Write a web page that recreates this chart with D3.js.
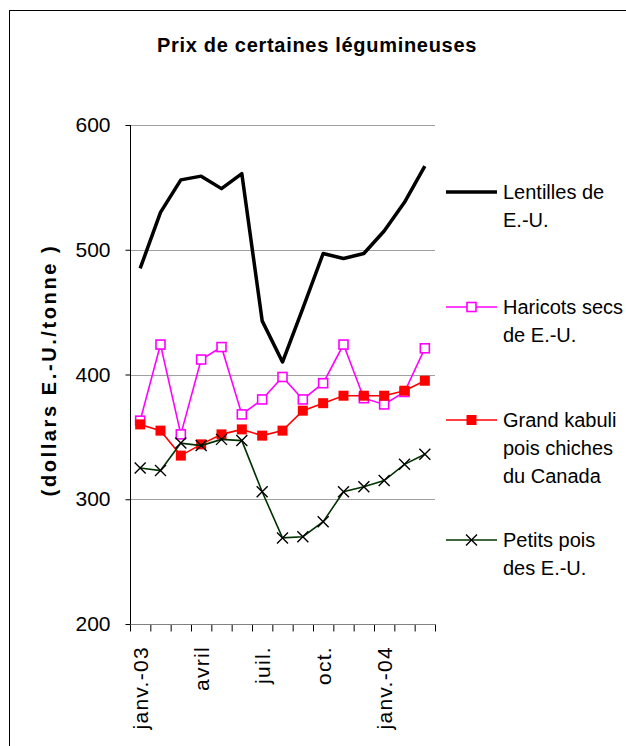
<!DOCTYPE html>
<html>
<head>
<meta charset="utf-8">
<script src="https://cdn.jsdelivr.net/npm/d3@7/dist/d3.min.js"></script>
<style>
  html, body { margin: 0; padding: 0; background: #fff; }
  svg { display: block; }
  text { font-family: "Liberation Sans", Arial, sans-serif; fill: #000; }
</style>
</head>
<body>
<svg id="chart" width="626" height="746"></svg>
<script>
// ---- data ----
const months = ["2003-01","2003-02","2003-03","2003-04","2003-05","2003-06","2003-07","2003-08","2003-09","2003-10","2003-11","2003-12","2004-01","2004-02","2004-03"];
const tickMonths = ["2003-01","2003-04","2003-07","2003-10","2004-01"];
const tickLabels = ["janv.-03","avril","juil.","oct.","janv.-04"];
const yTicks = [200, 300, 400, 500, 600];

const lentilles = [485, 530, 556, 559, 549, 561, 443, 410, 453, 497, 493, 497, 515, 538, 567];
const haricots  = [363, 424, 352, 412, 422, 368, 380, 398, 380, 393, 424, 381, 376, 386, 421];
const kabuli    = [360, 355, 335, 344, 352, 356, 351, 355, 371, 377, 383, 383, 383, 387, 395];
const petitsPois= [325, 323, 345, 343, 348, 347, 306, 269, 270, 282, 306, 310, 315, 328, 336];

const seriesNames = [["Lentilles de","E.-U."],["Haricots secs","de E.-U."],["Grand kabuli","pois chiches","du Canada"],["Petits pois","des E.-U."]];

// ---- chart ----
const svg = d3.select("#chart");

// outer frame
svg.append("rect").attr("x", 9.5).attr("y", 10.5).attr("width", 700).attr("height", 800)
  .attr("fill", "none").attr("stroke", "#000").attr("stroke-width", 1);

const x = d3.scaleBand().domain(months).range([130, 435]).padding(0);
const xEdge = d3.scaleLinear().domain([0, months.length]).range([130, 435]);
const y = d3.scaleLinear().domain([200, 600]).range([624, 125]);
const cx = m => x(m) + x.bandwidth() / 2;

// title
svg.append("text").attr("x", 157).attr("y", 51.5).attr("text-anchor", "start")
  .style("font-size", "20px").style("font-weight", "bold").style("letter-spacing", "0.7px")
  .text("Prix de certaines légumineuses");

// gridlines
svg.append("g").selectAll("line").data(yTicks.filter(v => v > 200)).join("line")
  .attr("x1", 130).attr("x2", 435).attr("y1", d => Math.round(y(d)) + 0.5).attr("y2", d => Math.round(y(d)) + 0.5)
  .attr("stroke", "#a0a0a0").attr("stroke-width", 1);

// x axis ticks + line (gray)
const gxTicks = svg.append("g").attr("transform", `translate(0,${Math.round(y(200)) + 0.5})`)
  .call(d3.axisBottom(xEdge).tickValues(d3.range(0, months.length + 1)).tickSize(7).tickFormat(""));
gxTicks.select(".domain").remove();
gxTicks.selectAll(".tick line").attr("stroke", "#000");
svg.append("line").attr("x1", 130).attr("x2", 435).attr("y1", Math.round(y(200)) + 0.5).attr("y2", Math.round(y(200)) + 0.5)
  .attr("stroke", "#808080").attr("stroke-width", 1.2);

// x labels
const gxLab = svg.append("g").attr("transform", `translate(0,${y(200)})`)
  .call(d3.axisBottom(x).tickValues(tickMonths).tickSize(0).tickFormat((d, i) => tickLabels[i]));
gxLab.select(".domain").remove();
gxLab.selectAll("text")
  .attr("transform", "rotate(-90)").attr("text-anchor", "end")
  .attr("x", -22).attr("y", 0).attr("dy", "0.35em")
  .style("font-size", "21px").style("font-family", "'Liberation Sans', Arial, sans-serif")
  .style("letter-spacing", "1.3px");

// y axis
const gy = svg.append("g").attr("transform", "translate(130.5,0)")
  .call(d3.axisLeft(y).tickValues(yTicks).tickSize(5).tickPadding(15));
gy.select(".domain").attr("stroke", "#000").attr("d", `M0,${y(600)}V${y(200)}`);
gy.selectAll(".tick line").attr("stroke", "#000");
gy.selectAll("text").style("font-size", "21px").style("font-family", "'Liberation Sans', Arial, sans-serif");

// y title
svg.append("text").attr("transform", "translate(56,370) rotate(-90)").attr("text-anchor", "middle")
  .style("font-size", "20px").style("font-weight", "bold").style("letter-spacing", "2.6px")
  .text("(dollars E.-U./tonne )");

const line = d3.line().x((d, i) => cx(months[i])).y(d => y(d));

// Lentilles
svg.append("path").datum(lentilles).attr("d", line).attr("fill", "none")
  .attr("stroke", "#000").attr("stroke-width", 3.5).attr("stroke-linejoin", "round");

// Haricots
svg.append("path").datum(haricots).attr("d", line).attr("fill", "none")
  .attr("stroke", "#ff00ff").attr("stroke-width", 1.6);
svg.append("g").selectAll("rect").data(haricots).join("rect")
  .attr("x", (d, i) => cx(months[i]) - 4.5).attr("y", d => y(d) - 4.5)
  .attr("width", 9).attr("height", 9).attr("fill", "#fff").attr("stroke", "#ff00ff").attr("stroke-width", 1.6);

// Kabuli
svg.append("path").datum(kabuli).attr("d", line).attr("fill", "none")
  .attr("stroke", "#ff0000").attr("stroke-width", 1.6);
svg.append("g").selectAll("rect").data(kabuli).join("rect")
  .attr("x", (d, i) => cx(months[i]) - 5).attr("y", d => y(d) - 5)
  .attr("width", 10).attr("height", 10).attr("fill", "#ff0000");

// Petits pois
svg.append("path").datum(petitsPois).attr("d", line).attr("fill", "none")
  .attr("stroke", "#003300").attr("stroke-width", 1.6);
const xMark = (px, py, s) => `M${px - s},${py - s}L${px + s},${py + s}M${px - s},${py + s}L${px + s},${py - s}`;
svg.append("g").selectAll("path").data(petitsPois).join("path")
  .attr("d", (d, i) => xMark(cx(months[i]), y(d), 5.5))
  .attr("stroke", "#000").attr("stroke-width", 1.4).attr("fill", "none");

// legend
const legY = [192, 307, 420, 540];
const lg = svg.append("g");
const styles = [
  {stroke: "#000", w: 3.5, marker: null},
  {stroke: "#ff00ff", w: 1.6, marker: "open"},
  {stroke: "#ff0000", w: 1.6, marker: "fill"},
  {stroke: "#003300", w: 1.6, marker: "x"}
];
seriesNames.forEach((names, k) => {
  const ly = legY[k], st = styles[k];
  lg.append("line").attr("x1", 446).attr("x2", 497).attr("y1", ly).attr("y2", ly)
    .attr("stroke", st.stroke).attr("stroke-width", st.w);
  if (st.marker === "open") {
    lg.append("rect").attr("x", 471.5 - 4.5).attr("y", ly - 4.5).attr("width", 9).attr("height", 9)
      .attr("fill", "#fff").attr("stroke", "#ff00ff").attr("stroke-width", 1.6);
  } else if (st.marker === "fill") {
    lg.append("rect").attr("x", 471.5 - 5).attr("y", ly - 5).attr("width", 10).attr("height", 10).attr("fill", "#ff0000");
  } else if (st.marker === "x") {
    lg.append("path").attr("d", xMark(471.5, ly, 5.5)).attr("stroke", "#000").attr("stroke-width", 1.4);
  }
  const t = lg.append("text").attr("x", 503).attr("y", ly).style("font-size", "20px");
  names.forEach((n, j) => {
    t.append("tspan").attr("x", 503).attr("y", ly + j * 28).attr("dy", "0.36em").text(n);
  });
});
</script>
</body>
</html>
